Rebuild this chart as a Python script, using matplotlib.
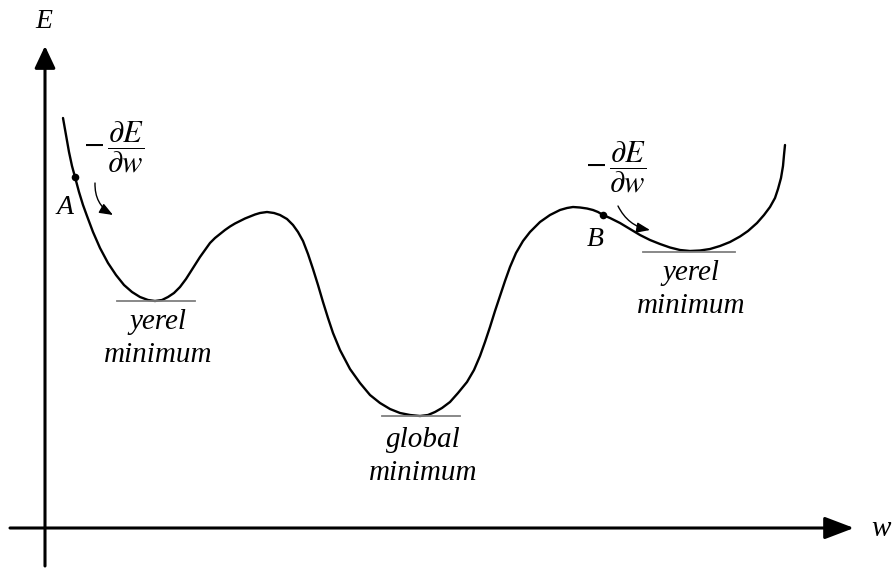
import numpy as np
import matplotlib
matplotlib.use("Agg")
import matplotlib.pyplot as plt

plt.rcParams['mathtext.fontset'] = 'stix'

# Error curve E(w) (pixel-like units, y downward)
curve_w = [63, 66, 69, 72, 75, 79, 83, 87, 93, 100, 108, 116, 124, 132, 140, 148, 155,
           162, 168, 174, 180, 186, 193, 200, 205, 210, 215, 220, 225, 230, 235, 240,
           245, 250, 255, 260, 267, 274,
           280, 287, 293, 298, 303, 308, 313, 318, 323, 328, 333, 340, 350, 360, 370,
           380, 390, 400, 410, 420, 428, 435, 442, 450, 458, 467, 474, 480, 485, 490,
           495, 500, 505, 510, 516, 523, 530, 540, 550, 560, 567, 573, 580, 587, 593,
           598, 603, 610, 620, 630, 640, 650, 660, 670, 680, 690, 700, 710, 720, 730,
           740, 748, 757, 764, 770, 775, 778, 781, 783, 784, 785]
curve_E = [118, 135, 152, 166, 177, 192, 205, 216, 232, 248, 263, 275, 285, 292, 297, 300, 301,
           300, 297, 293, 287, 279, 268, 257, 250, 243, 238, 234, 230, 226.5, 223.5, 221,
           218.5, 216.5, 214.5, 213, 212, 213,
           215, 219, 225, 232, 241, 254, 269, 285, 302, 318, 333, 350, 369, 383, 395,
           403, 409, 413, 415, 416, 415, 412, 408, 402, 393, 382, 370, 356, 342, 327,
           311, 296, 281, 267, 253, 241, 232, 222, 215, 210, 208, 207, 207.5, 208.5, 210,
           212, 215, 218, 223, 229, 235, 240, 244, 247.5, 250, 251, 250.5, 249, 246, 242,
           236.5, 231, 223, 215, 207, 198, 189, 178, 166, 155, 145]

# Points on the curve
point_labels = ['A', 'B']
point_w = [75, 603]
point_E = [177, 215]

# Minima annotations
min_label_top = ['yerel', 'global', 'yerel']
min_label_bottom = ['minimum', 'minimum', 'minimum']
min_w = [156, 421, 689]
min_E = [301, 416, 252]

fig = plt.figure(figsize=(8.95, 5.68), dpi=100)
ax = fig.add_axes([0, 0, 1, 1])
ax.set_xlim(0, 895)
ax.set_ylim(568, 0)
ax.axis('off')

# Axes with arrows
ax.annotate('', xy=(45, 46), xytext=(45, 566),
            arrowprops=dict(arrowstyle='-|>,head_length=1.0,head_width=0.47',
                            mutation_scale=13.5, lw=2.2, color='black',
                            shrinkA=0, shrinkB=0))
ax.annotate('', xy=(854, 528), xytext=(10, 528),
            arrowprops=dict(arrowstyle='-|>,head_length=1.0,head_width=0.38',
                            mutation_scale=18, lw=2.2, color='black',
                            shrinkA=0, shrinkB=0))

serif_it = dict(family='Liberation Serif', style='italic', color='black')
ax.text(44, 21, 'E', fontsize=20, ha='center', va='center', **serif_it)
ax.text(881, 529, 'w', fontsize=21, ha='center', va='center', **serif_it)

# Curve
ax.plot(curve_w, curve_E, color='black', lw=1.7, solid_capstyle='round',
        solid_joinstyle='round')

# Tangent lines at minima
half_left = [39, 39, 46]
half_right = [39, 39, 46]
for w, e, hl, hr in zip(min_w, min_E, half_left, half_right):
    ax.plot([w - hl, w + hr], [e, e], color='#7f7f7f', lw=1.3)

# Minima labels
top_off = [21, 24, 21]
for t, b, w, e, off in zip(min_label_top, min_label_bottom, min_w, min_E, top_off):
    ax.text(w + 2, e + off, t, fontsize=21, ha='center', va='center', **serif_it)
    ax.text(w + 2, e + off + 33, b, fontsize=21, ha='center', va='center', **serif_it)

# Points and their labels
ax.scatter(point_w, point_E, s=30, color='black', zorder=5, linewidths=0)
ax.text(65, 208, 'A', fontsize=20, ha='center', va='center', **serif_it)
ax.text(595, 239, 'B', fontsize=20, ha='center', va='center', **serif_it)

# Gradient labels
grad = r'$-\,\dfrac{\partial E}{\partial w}$'
ax.text(114, 147, grad, fontsize=22, ha='center', va='center')
ax.text(616, 167, grad, fontsize=22, ha='center', va='center')

# Curved arrows
ax.annotate('', xy=(113, 215), xytext=(95, 183),
            arrowprops=dict(arrowstyle='-|>,head_length=0.9,head_width=0.35',
                            mutation_scale=9, lw=1.0, color='black',
                            connectionstyle='arc3,rad=0.3', shrinkA=0, shrinkB=0))
ax.annotate('', xy=(650, 230), xytext=(618, 206),
            arrowprops=dict(arrowstyle='-|>,head_length=0.9,head_width=0.35',
                            mutation_scale=9, lw=1.0, color='black',
                            connectionstyle='arc3,rad=0.25', shrinkA=0, shrinkB=0))

fig.savefig('out.png', dpi=100)
